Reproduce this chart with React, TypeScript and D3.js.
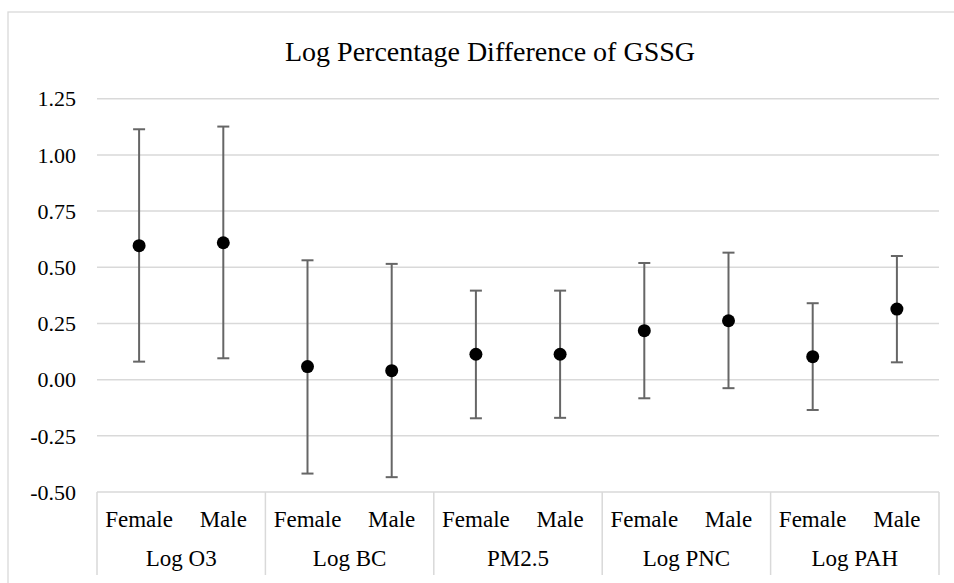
import * as d3 from 'd3'

// pollutant groups, each with a Female and a Male estimate
const groups = ['Log O3', 'Log BC', 'PM2.5', 'Log PNC', 'Log PAH']
const sexes = ['Female', 'Male']
const estimates = [0.596, 0.609, 0.058, 0.04, 0.113, 0.113, 0.218, 0.262, 0.102, 0.314]
const lower = [0.08, 0.095, -0.418, -0.434, -0.172, -0.17, -0.083, -0.038, -0.135, 0.077]
const upper = [1.114, 1.126, 0.531, 0.515, 0.396, 0.396, 0.519, 0.565, 0.34, 0.55]
const yTicks = [-0.5, -0.25, 0, 0.25, 0.5, 0.75, 1.0, 1.25]

const W = 954
const H = 583
const FONT = "'Times New Roman', 'Liberation Serif', Tinos, Times, 'DejaVu Serif', 'Noto Serif', FreeSerif, Georgia, serif"

// Excel style: plain hyphen for negatives
const fmt = (v: number) => d3.format('.2f')(v).replace('\u2212', '-')

export default function App() {
  const margin = { left: 97, right: 15, top: 98.7, bottom: 91 }
  const cats = groups.flatMap((g, gi) => sexes.map((s, si) => ({ group: g, sex: s, i: gi * 2 + si })))

  const x = d3.scaleBand<number>().domain(cats.map(c => c.i)).range([margin.left, W - margin.right]).padding(0)
  const y = d3.scaleLinear().domain([-0.5, 1.25]).range([H - margin.bottom, margin.top])
  const gx = d3.scaleBand<string>().domain(groups).range([margin.left, W - margin.right]).padding(0)

  const axisY = y(-0.5)
  const cap = 6
  const txt = { fontFamily: FONT, fill: '#000' }

  return (
    <svg width={W} height={H} style={{ position: 'absolute', left: 0, top: 0, background: '#fff' }}>
      {/* chart area border */}
      <rect x={8} y={12} width={W} height={H} fill="none" stroke="#d9d9d9" strokeWidth={1.3} />

      <text x={490} y={61} textAnchor="middle" fontSize={28} style={txt}>
        Log Percentage Difference of GSSG
      </text>

      {/* gridlines + tick labels */}
      {yTicks.map(t => (
        <g key={t}>
          {t > -0.5 && (
            <line x1={margin.left} x2={W - margin.right} y1={y(t)} y2={y(t)} stroke="#d9d9d9" strokeWidth={1.5} />
          )}
          <text x={76} y={y(t)} dy="0.35em" textAnchor="end" fontSize={22} style={txt}>
            {fmt(t)}
          </text>
        </g>
      ))}

      {/* category axis */}
      <line x1={margin.left} x2={W - margin.right} y1={axisY} y2={axisY} stroke="#d9d9d9" strokeWidth={1.5} />
      {groups.map(g => (
        <line key={'d' + g} x1={gx(g)!} x2={gx(g)!} y1={axisY} y2={575} stroke="#d9d9d9" strokeWidth={1.5} />
      ))}
      <line x1={W - margin.right} x2={W - margin.right} y1={axisY} y2={575} stroke="#d9d9d9" strokeWidth={1.5} />

      {cats.map(c => (
        <text key={'s' + c.i} x={x(c.i)! + x.bandwidth() / 2} y={527} textAnchor="middle" fontSize={23} style={txt}>
          {c.sex}
        </text>
      ))}
      {groups.map(g => (
        <text key={'g' + g} x={gx(g)! + gx.bandwidth() / 2} y={566} textAnchor="middle" fontSize={23} style={txt}>
          {g}
        </text>
      ))}

      {/* error bars and points */}
      {cats.map(c => {
        const cx = x(c.i)! + x.bandwidth() / 2
        return (
          <g key={'p' + c.i}>
            <line x1={cx} x2={cx} y1={y(upper[c.i])} y2={y(lower[c.i])} stroke="#666" strokeWidth={2} />
            <line x1={cx - cap} x2={cx + cap} y1={y(upper[c.i])} y2={y(upper[c.i])} stroke="#666" strokeWidth={2} />
            <line x1={cx - cap} x2={cx + cap} y1={y(lower[c.i])} y2={y(lower[c.i])} stroke="#666" strokeWidth={2} />
            <circle cx={cx} cy={y(estimates[c.i])} r={6.5} fill="#000" />
          </g>
        )
      })}
    </svg>
  )
}
